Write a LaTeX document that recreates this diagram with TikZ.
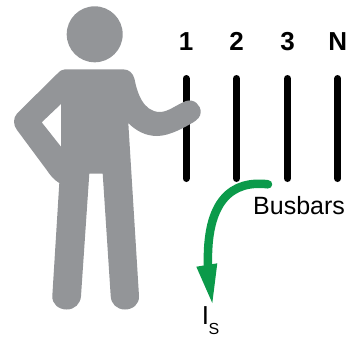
\documentclass[tikz,border=0pt]{standalone}
\usepackage{fontspec}
\setmainfont{Liberation Sans}
\definecolor{persongrey}{HTML}{939598}
\definecolor{arrowgreen}{HTML}{0B9A4A}
\tikzset{
  busbar/.style={line width=7pt,line cap=round,black},
  phase/.style={font=\fontsize{26}{26}\selectfont\bfseries,anchor=base,inner sep=0pt},
  lbl/.style={font=\fontsize{25}{25}\selectfont,anchor=base west,inner sep=0pt},
  curlbl/.style={font=\fontsize{26}{26}\selectfont,anchor=base west,inner sep=0pt},
  sublbl/.style={font=\fontsize{16}{16}\selectfont,anchor=base west,inner sep=0pt},
  person/.style={fill=persongrey,draw=none},
}
\begin{document}
\begin{tikzpicture}[x=1pt,y=-1pt]
\useasboundingbox (0,0) rectangle (348,338);
% busbars
\foreach \n/\x in {a/186,b/236.5,c/287.5,d/337.7}{
  \coordinate (top\n) at (\x,78.5);
  \coordinate (bot\n) at (\x,178.5);
  \draw[busbar] (top\n) -- (bot\n);
}
\node[phase] (p1) at (186,50) {1};
\node[phase] (p2) at (236.5,50) {2};
\node[phase] (p3) at (287.5,50) {3};
\node[phase] (pN) at (337.7,50) {N};
% person
\fill[person] (94.7,34.3) circle (28);
\fill[person,even odd rule]
  (65,69.3) -- (123,69.3)
  .. controls (129,69.3) and (133,73) .. (134.5,79)
  .. controls (137,92) and (143,112) .. (160,112)
  .. controls (168,112) and (176,105) .. (186,101)
  .. controls (194,98.5) and (201,105) .. (200.7,112.5)
  .. controls (200.5,117) and (197,120) .. (193,122.5)
  .. controls (185,127) and (170,136) .. (157,136)
  .. controls (146,136) and (136,131) .. (128.3,123)
  -- (139,296)
  .. controls (139.5,304) and (133,309.5) .. (125,309.5)
  .. controls (117,309.5) and (111,304) .. (110.7,296)
  -- (102.7,173.7) -- (89.3,173.7) -- (81,296)
  .. controls (80.5,304) and (74.5,309.5) .. (66.7,309.5)
  .. controls (58.5,309.5) and (52,304) .. (52.3,296)
  -- (59.3,183)
  .. controls (54,180) and (50,175) .. (46.7,170)
  -- (17,130)
  .. controls (13,125) and (13,118) .. (17,113.5)
  -- (57,74)
  .. controls (60,71) and (62,69.3) .. (65,69.3)
  -- cycle
  (61,104) -- (41.7,122.3) -- (61,146.7) -- cycle;
% arrow
\coordinate (astart) at (268,184.3);
\coordinate (aend) at (208,266);
\draw[arrowgreen,line width=8.5pt,line cap=round]
  (astart) .. controls (232,180) and (206,200) .. (aend);
\coordinate (hl) at (196.3,266.7);
\coordinate (hr) at (217.3,263.3);
\coordinate (tip) at (212.3,303);
\fill[arrowgreen] (hl) -- (hr) -- (tip) -- cycle;
% labels
\node[lbl] (busbars) at (253,214) {Busbars};
\node[curlbl] (is) at (201.7,324) {I};
\node[sublbl] (s) at (208.5,334.3) {S};
\end{tikzpicture}
\end{document}
